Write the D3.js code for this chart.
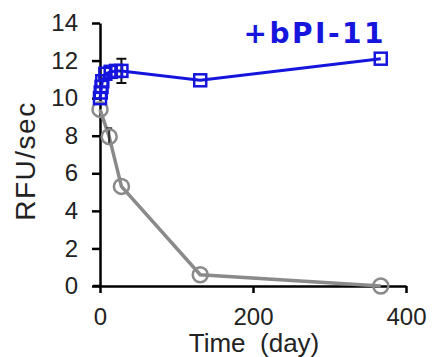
<!DOCTYPE html>
<html><head><meta charset="utf-8">
<script src="https://cdn.jsdelivr.net/npm/d3@7/dist/d3.min.js"></script>
<style>body{margin:0;background:#fff}svg{display:block}</style>
</head><body>
<script>
const blueDays = [0, 1, 2, 3, 7, 14, 21, 28, 131, 367];
const blueVals = [10.0, 10.3, 10.6, 10.9, 11.3, 11.4, 11.45, 11.45, 10.95, 12.1];
const blueErr  = [0, 0, 0, 0, 0, 0, 0, 0.65, 0, 0];
const grayDays = [0, 12, 28, 131, 367];
const grayVals = [9.4, 7.95, 5.3, 0.6, 0.0];
const grayErr  = [0, 0.45, 0, 0, 0];
const xTicks = [0, 200, 400];
const yTicks = [0, 2, 4, 6, 8, 10, 12, 14];
const seriesLabel = "+bPI-11";

const W = 432, H = 357;
const svg = d3.select("body").append("svg").attr("width", W).attr("height", H);
const x = d3.scaleLinear().domain([0, 400]).range([100, 406]);
const y = d3.scaleLinear().domain([0, 14]).range([286, 23]);

const font = "'Liberation Sans', Arial, sans-serif";
const yAxis = svg.append("g").attr("transform", "translate(100,0)")
  .call(d3.axisLeft(y).tickValues(yTicks).tickSize(8).tickPadding(14).tickSizeOuter(0));
const xAxis = svg.append("g").attr("transform", "translate(0,286)")
  .call(d3.axisBottom(x).tickValues(xTicks).tickSize(7).tickPadding(15).tickSizeOuter(0));
[yAxis, xAxis].forEach(g => {
  g.select(".domain").attr("stroke", "#000").attr("stroke-width", 2.5);
  g.selectAll(".tick line").attr("stroke", "#000").attr("stroke-width", 2.5);
  g.selectAll("text").attr("font-family", font).attr("font-size", 24).attr("fill", "#222");
});
svg.append("line").attr("x1", 93).attr("x2", 100).attr("y1", 286).attr("y2", 286)
  .attr("stroke", "#000").attr("stroke-width", 2.5);

svg.append("text").attr("x", 254).attr("y", 352).attr("text-anchor", "middle")
  .attr("font-family", font).attr("font-size", 26).attr("fill", "#222").text("Time\u00a0 (day)");
svg.append("text").attr("transform", "translate(35,161) rotate(-90)").attr("text-anchor", "middle")
  .attr("font-family", font).attr("font-size", 28).attr("letter-spacing", 1.5).attr("fill", "#222").text("RFU/sec");

const line = d3.line().x(d => x(d[0])).y(d => y(d[1]));
const gray = grayDays.map((d, i) => [d, grayVals[i], grayErr[i]]);
const blue = blueDays.map((d, i) => [d, blueVals[i], blueErr[i]]);

const grayC = "#8a8a8a", blueC = "#1515dd";
svg.append("path").datum(gray).attr("d", line).attr("fill", "none")
  .attr("stroke", grayC).attr("stroke-width", 3.5);
svg.selectAll(".gerr").data(gray.filter(d => d[2] > 0)).enter().append("path")
  .attr("d", d => `M${x(d[0])},${y(d[1]-d[2])}V${y(d[1]+d[2])}M${x(d[0])-3},${y(d[1]+d[2])}H${x(d[0])+3}`)
  .attr("stroke", "#333").attr("stroke-width", 2);
svg.selectAll(".gpt").data(gray).enter().append("circle")
  .attr("cx", d => x(d[0])).attr("cy", d => y(d[1])).attr("r", 7.5)
  .attr("fill", "none").attr("stroke", grayC).attr("stroke-width", 2.5);

svg.append("path").datum(blue).attr("d", line).attr("fill", "none")
  .attr("stroke", blueC).attr("stroke-width", 3);
svg.selectAll(".berr").data(blue.filter(d => d[2] > 0)).enter().append("path")
  .attr("d", d => `M${x(d[0])},${y(d[1]-d[2])}V${y(d[1]+d[2])}M${x(d[0])-5},${y(d[1]+d[2])}H${x(d[0])+5}M${x(d[0])-5},${y(d[1]-d[2])}H${x(d[0])+5}`)
  .attr("stroke", "#111").attr("stroke-width", 2);
svg.selectAll(".bpt").data(blue).enter().append("rect")
  .attr("x", d => x(d[0]) - 6).attr("y", d => y(d[1]) - 6).attr("width", 12).attr("height", 12)
  .attr("fill", "none").attr("stroke", blueC).attr("stroke-width", 2.5);

svg.append("text").attr("x", 386).attr("y", 43).attr("text-anchor", "end")
  .attr("font-family", "'DejaVu Sans', Verdana, sans-serif").attr("font-weight", "bold")
  .attr("font-size", 28).attr("letter-spacing", 2.5).attr("fill", blueC).text(seriesLabel);
</script>
</body></html>
